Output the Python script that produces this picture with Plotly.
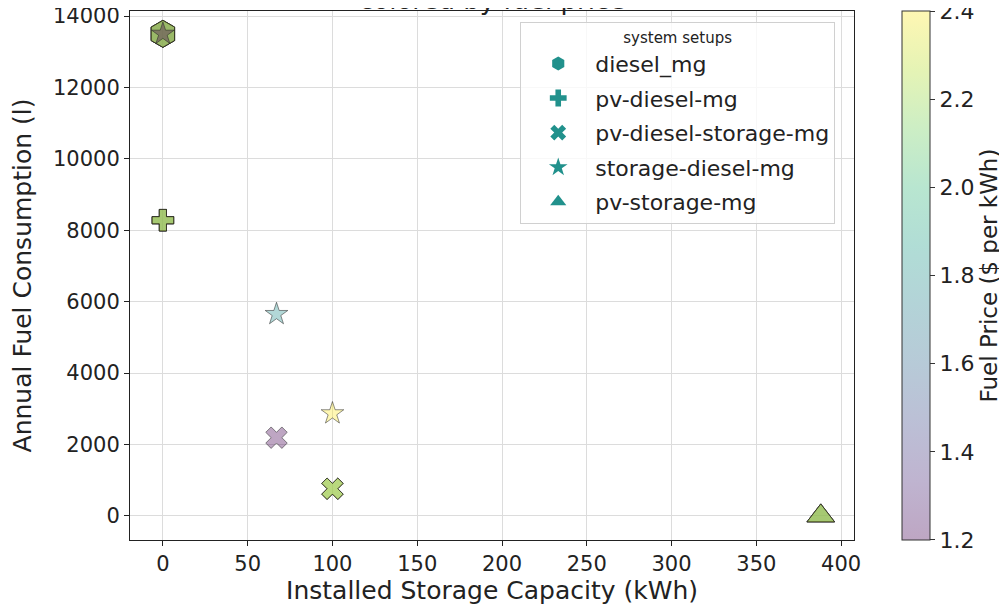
import plotly.graph_objects as go
import plotly.colors as pc

# ---------------- data ----------------
setups = ["diesel_mg", "pv-diesel-mg", "pv-diesel-storage-mg", "storage-diesel-mg", "pv-storage-mg"]

diesel_mg_storage = [0, 0, 0, 0, 0]
diesel_mg_fuel = [13500, 13500, 13500, 13500, 13500]
diesel_mg_price = [1.2, 1.5, 1.8, 2.1, 2.4]

pv_diesel_mg_storage = [0, 0, 0, 0]
pv_diesel_mg_fuel = [8280, 8280, 8280, 8280]
pv_diesel_mg_price = [1.5, 1.8, 2.1, 2.4]

pv_diesel_storage_mg_storage = [67, 100, 100, 100]
pv_diesel_storage_mg_fuel = [2190, 760, 760, 760]
pv_diesel_storage_mg_price = [1.2, 1.8, 2.1, 2.4]

storage_diesel_mg_storage = [0, 67, 100]
storage_diesel_mg_fuel = [13500, 5650, 2870]
storage_diesel_mg_price = [1.2, 1.8, 2.4]

pv_storage_mg_storage = [388, 388, 388, 388]
pv_storage_mg_fuel = [0, 0, 0, 0]
pv_storage_mg_price = [1.5, 1.8, 2.1, 2.4]

price_min, price_max = 1.2, 2.4
colorbar_ticks = [1.2, 1.4, 1.6, 1.8, 2.0, 2.2, 2.4]
colorbar_labels = ["1.2", "1.4", "1.6", "1.8", "2.0", "2.2", "2.4"]
x_ticks = [0, 50, 100, 150, 200, 250, 300, 350, 400]
y_ticks = [0, 2000, 4000, 6000, 8000, 10000, 12000, 14000]

# ---------------- style ----------------
FONT = "DejaVu Sans"
TXT = "#222222"
ALPHA = 0.35
vir = pc.sequential.Viridis
scale = []
for i, h in enumerate(vir):
    r, g, b = pc.hex_to_rgb(h)
    scale.append([i / (len(vir) - 1), f"rgba({r},{g},{b},{ALPHA})"])

legend_color = "#21918c"
edge = dict(color="rgba(30,30,30,0.5)", width=1)

series = [
    (setups[0], diesel_mg_storage, diesel_mg_fuel, diesel_mg_price, "hexagon", 27),
    (setups[1], pv_diesel_mg_storage, pv_diesel_mg_fuel, pv_diesel_mg_price, "cross", 18),
    (setups[2], pv_diesel_storage_mg_storage, pv_diesel_storage_mg_fuel, pv_diesel_storage_mg_price, "x", 19),
    (setups[3], storage_diesel_mg_storage, storage_diesel_mg_fuel, storage_diesel_mg_price, "star", 17),
    (setups[4], pv_storage_mg_storage, pv_storage_mg_fuel, pv_storage_mg_price, "triangle-up", 24),
]

EPS = 1e-4
fig = go.Figure()
for i, (name, xs, ys, cs, sym, size) in enumerate(series):
    marker = dict(symbol=sym, size=size, color=cs, colorscale=scale,
                  cmin=price_min - EPS, cmax=price_max + EPS, line=edge)
    if i == 0:
        marker.update(showscale=True, colorbar=dict(
            x=1.066, xanchor="left", xpad=0, ypad=0,
            y=0.5, yanchor="middle", len=1, lenmode="fraction",
            thickness=28, thicknessmode="pixels",
            outlinecolor="#333333", outlinewidth=1,
            ticks="outside", ticklen=5, tickcolor="#333333",
            tickvals=colorbar_ticks, ticktext=colorbar_labels,
            ticklabeloverflow="allow",
            tickfont=dict(family=FONT, size=22, color=TXT),
            title=dict(text="Fuel Price ($ per kWh)", side="right",
                       font=dict(family=FONT, size=23, color=TXT)),
        ))
    else:
        marker.update(showscale=False)
    fig.add_trace(go.Scatter(x=xs, y=ys, mode="markers", marker=marker,
                             name=name, showlegend=False, hoverinfo="x+y"))

# legend-only entries
for name, xs, ys, cs, sym, size in series:
    fig.add_trace(go.Scatter(x=[None], y=[None], mode="markers", name=name,
                             legendgroup=name,
                             marker=dict(symbol=sym, size=14, color=legend_color)))

fig.update_layout(
    width=999, height=599,
    margin=dict(l=122, r=153, t=3, b=67, autoexpand=False),
    paper_bgcolor="white", plot_bgcolor="white",
    font=dict(family=FONT, color=TXT),
    legend=dict(
        x=0.539, y=0.979, xanchor="left", yanchor="top",
        bgcolor="rgba(255,255,255,0.8)", bordercolor="#d0d0d0", borderwidth=1,
        font=dict(family=FONT, size=22, color=TXT),
        title=dict(text="system setups", side="top center",
                   font=dict(family=FONT, size=15, color=TXT)),
        itemwidth=64, traceorder="grouped", tracegroupgap=3,
    ),
    annotations=[dict(text="colored by fuel price", x=0.5, xref="paper", xanchor="center",
                      y=1.0, yref="paper", yanchor="bottom", yshift=-6, showarrow=False,
                      font=dict(family=FONT, size=26, color=TXT))],
)

axis_common = dict(
    showline=True, linecolor=TXT, linewidth=1, mirror=True,
    ticks="outside", ticklen=5, tickcolor=TXT,
    showgrid=True, gridcolor="#dcdcdc", gridwidth=1, zeroline=False,
    ticklabeloverflow="allow",
    tickfont=dict(family=FONT, size=21, color=TXT),
)
fig.update_xaxes(range=[-19.4, 407.6], tickvals=x_ticks,
                 title=dict(text="Installed Storage Capacity (kWh)", standoff=6,
                            font=dict(family=FONT, size=25, color=TXT)),
                 **axis_common)
fig.update_yaxes(range=[-675, 14140], tickvals=y_ticks, tickformat="d",
                 title=dict(text="Annual Fuel Consumption (l)", standoff=14,
                            font=dict(family=FONT, size=25, color=TXT)),
                 **axis_common)

fig.write_html("out.html")
